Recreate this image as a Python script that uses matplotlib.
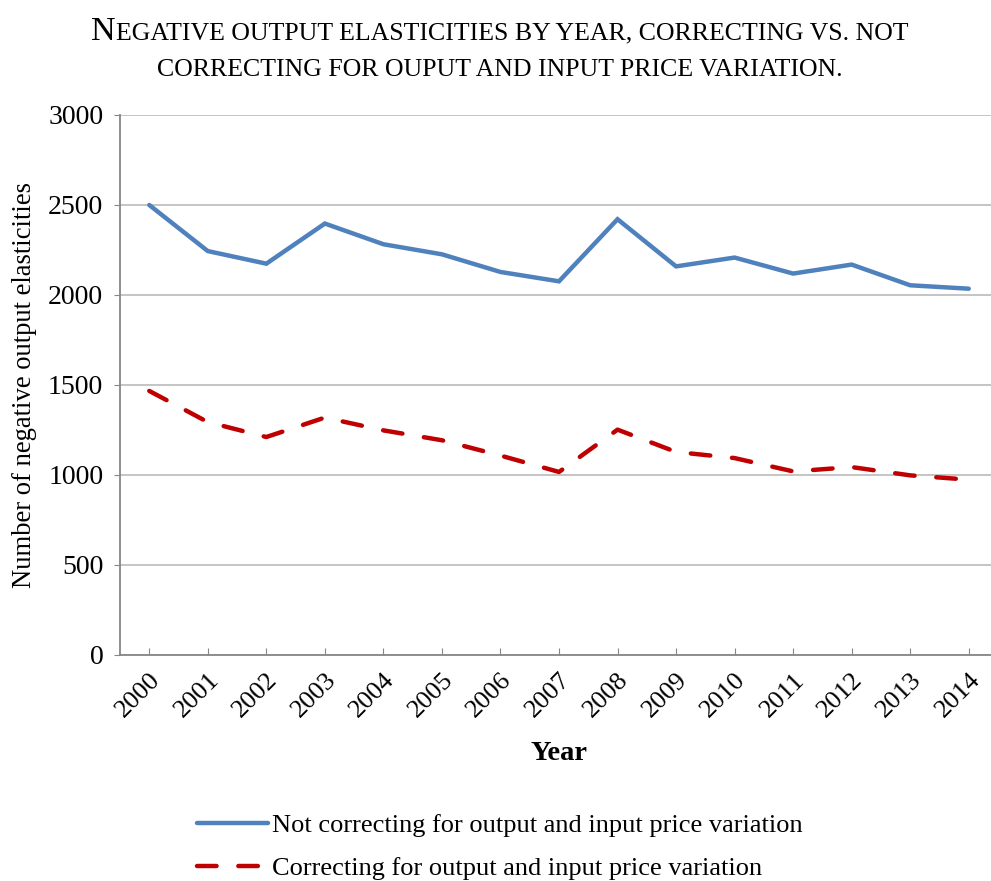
import numpy as np
import matplotlib
matplotlib.use("Agg")
import matplotlib.pyplot as plt
from matplotlib.offsetbox import TextArea, HPacker, VPacker, AnchoredOffsetbox

plt.rcParams['font.family'] = ['Liberation Serif', 'DejaVu Serif']

years = ['2000', '2001', '2002', '2003', '2004', '2005', '2006', '2007',
         '2008', '2009', '2010', '2011', '2012', '2013', '2014']
not_corrected = [2500, 2244, 2174, 2397, 2282, 2226, 2128, 2076,
                 2421, 2159, 2208, 2119, 2169, 2054, 2035]
corrected = [1467, 1294, 1211, 1319, 1248, 1193, 1108, 1017,
             1252, 1128, 1094, 1020, 1044, 998, 974]

blue = "#4F81BD"
red = "#C00000"
axcol = "#868686"

fig = plt.figure(figsize=(9.91, 8.81), dpi=100)
ax = fig.add_axes([120/991, 1-655/881, (998-120)/991, (655-115)/881])

x = np.arange(len(years))
ax.plot(x, not_corrected, color=blue, lw=3.2, solid_capstyle='round',
        solid_joinstyle='miter', label="Not correcting for output and input price variation")
ax.plot(x, corrected, color=red, lw=3.2, dashes=(4.4, 4.9), dash_capstyle='round',
        label="Correcting for output and input price variation")

ax.set_xlim(-0.5, 14.5)
ax.set_ylim(0, 3000)
ax.set_yticks(np.arange(0, 3001, 500))
ax.set_xticks(x)
ax.set_xticklabels(years, rotation=45, ha='right', rotation_mode='anchor')
ax.grid(axis='y', color="#BFBFBF", lw=1.3)
ax.set_axisbelow(True)
for s in ['top', 'right']:
    ax.spines[s].set_visible(False)
for s in ['left', 'bottom']:
    ax.spines[s].set_color(axcol)
    ax.spines[s].set_linewidth(1.3)
ax.tick_params(axis='y', direction='out', length=4, color=axcol, labelsize=20, pad=8)
ax.tick_params(axis='x', direction='in', length=5, color=axcol, labelsize=19, pad=10)

ax.set_xlabel("Year", fontsize=20.5, fontweight='bold', labelpad=14)
ax.set_ylabel("Number of negative output elasticities", fontsize=19.2, labelpad=8)

# small-caps title
big, small = 24.5, 18.6
line1 = HPacker(children=[TextArea("N", textprops=dict(size=big)),
                          TextArea("EGATIVE OUTPUT ELASTICITIES BY YEAR, CORRECTING VS. NOT",
                                   textprops=dict(size=small))],
                align="baseline", pad=0, sep=0)
line2 = TextArea("CORRECTING FOR OUPUT AND INPUT PRICE VARIATION.", textprops=dict(size=small))
title = VPacker(children=[line1, line2], align="center", pad=0, sep=9)
ab = AnchoredOffsetbox(loc='upper center', child=title, frameon=False,
                       bbox_to_anchor=(500/991, 1-16/881), bbox_transform=fig.transFigure,
                       borderpad=0, pad=0)
fig.add_artist(ab)

fig.legend(loc='upper left', bbox_to_anchor=(197/991, 1-814/881), frameon=False,
           fontsize=19, handlelength=2.7, handletextpad=0.15, labelspacing=0.72,
           borderpad=0, borderaxespad=0)

fig.savefig("out.png", dpi=100)
